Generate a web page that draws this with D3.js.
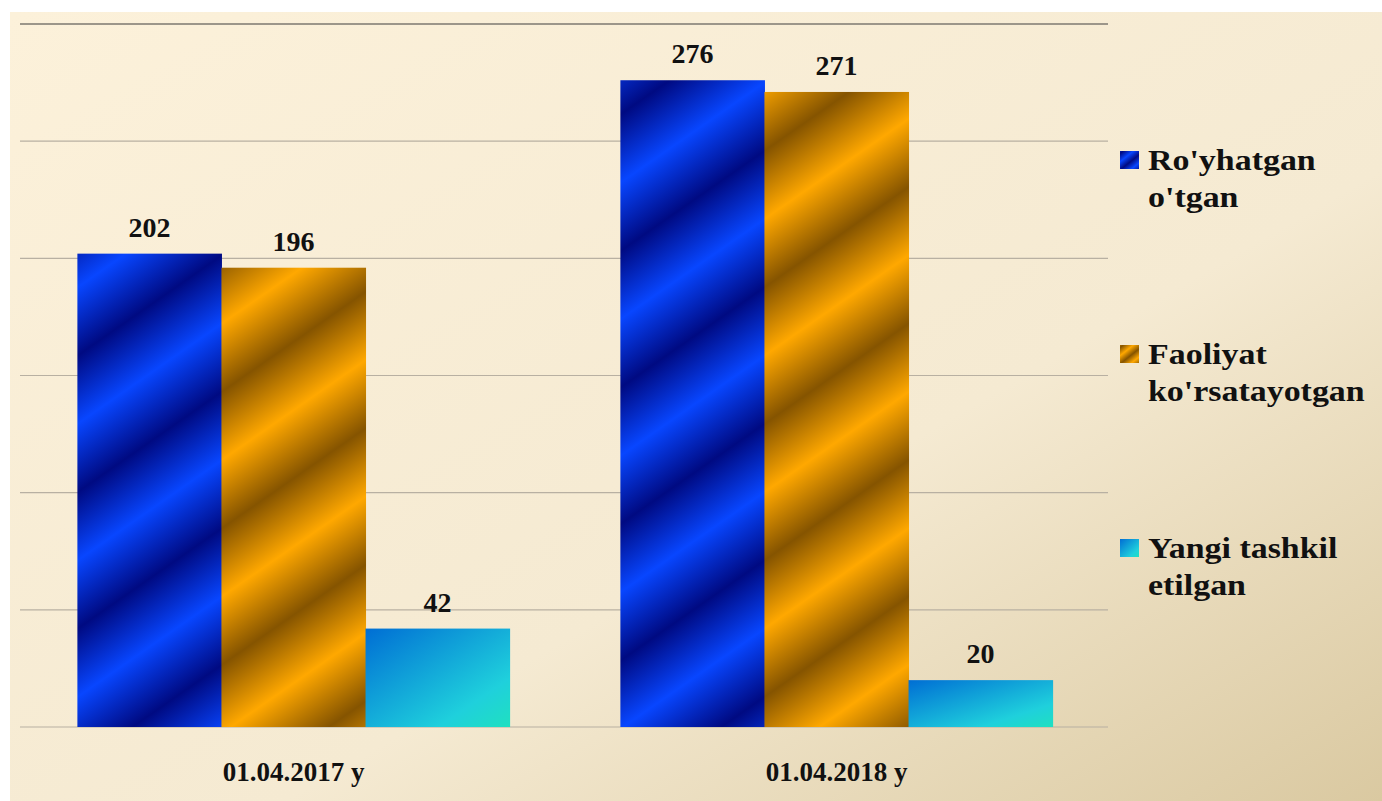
<!DOCTYPE html>
<html>
<head>
<meta charset="utf-8">
<script src="https://cdn.jsdelivr.net/npm/d3@7"></script>
<style>
  body { margin: 0; background: #ffffff; }
  svg { display: block; }
</style>
</head>
<body>
<div id="chart"></div>
<script>
var categories = ["01.04.2017 y", "01.04.2018 y"];
var series = ["Ro'yhatgan o'tgan", "Faoliyat ko'rsatayotgan", "Yangi tashkil etilgan"];
var legendLines = [["Ro'yhatgan", "o'tgan"], ["Faoliyat", "ko'rsatayotgan"], ["Yangi tashkil", "etilgan"]];
var registered = [202, 276];
var active = [196, 271];
var newlyCreated = [42, 20];
var yTicks = [0, 50, 100, 150, 200, 250, 300];

var width = 1382,
  height = 801;

var svg = d3
  .select("#chart")
  .append("svg")
  .attr("width", width)
  .attr("height", height);

var defs = svg.append("defs");

// background
var bg = defs
  .append("linearGradient")
  .attr("id", "bg")
  .attr("x1", 0)
  .attr("y1", 0)
  .attr("x2", 1)
  .attr("y2", 1);
bg.append("stop").attr("offset", 0).attr("stop-color", "#fcf1da");
bg.append("stop").attr("offset", 0.6).attr("stop-color", "#f5ead2");
bg.append("stop").attr("offset", 1).attr("stop-color", "#dac9a1");

svg
  .append("rect")
  .attr("x", 10)
  .attr("y", 12)
  .attr("width", width - 10)
  .attr("height", height - 12)
  .attr("fill", "url(#bg)");

// striped fills
function stripes(id, dark, light, dx, dy) {
  var gr = defs
    .append("linearGradient")
    .attr("id", id)
    .attr("gradientUnits", "userSpaceOnUse")
    .attr("x1", 0)
    .attr("y1", 0)
    .attr("x2", dx)
    .attr("y2", dy)
    .attr("spreadMethod", "reflect");
  gr.append("stop").attr("offset", 0).attr("stop-color", dark);
  gr.append("stop").attr("offset", 1).attr("stop-color", light);
}
stripes("blueFill", "#000a82", "#0846ff", 32, 46);
stripes("orangeFill", "#855400", "#ffa800", 32, 46);
stripes("blueSw", "#000a82", "#0846ff", 4, 5);
stripes("orangeSw", "#855400", "#ffa800", 4, 5);

var cyan = defs
  .append("linearGradient")
  .attr("id", "cyanFill")
  .attr("x1", 0)
  .attr("y1", 0)
  .attr("x2", 1)
  .attr("y2", 1);
cyan.append("stop").attr("offset", 0).attr("stop-color", "#006ed4");
cyan.append("stop").attr("offset", 0.75).attr("stop-color", "#1fd0dc");
cyan.append("stop").attr("offset", 1).attr("stop-color", "#1fe0c0");

var fills = ["url(#blueFill)", "url(#orangeFill)", "url(#cyanFill)"];
var swatches = ["url(#blueSw)", "url(#orangeSw)", "url(#cyanFill)"];

var x0 = d3
  .scaleBand()
  .domain(categories)
  .range([22, 1108])
  .paddingInner(0.204)
  .paddingOuter(0.102);

var x1 = d3
  .scaleBand()
  .domain(series)
  .range([0, x0.bandwidth()]);

var y = d3.scaleLinear().domain([0, 300]).range([727, 24]);

// gridlines
svg
  .append("g")
  .selectAll("line")
  .data(yTicks)
  .join("line")
  .attr("x1", 20)
  .attr("x2", 1108)
  .attr("y1", (d) => y(d))
  .attr("y2", (d) => y(d))
  .attr("stroke", (d) => (d === 300 ? "#9c968a" : "#b8b0a2"))
  .attr("stroke-width", (d) => (d === 300 ? 2 : 1.2));

var rows = [];
categories.forEach(function (c, i) {
  rows.push({ cat: c, s: 0, value: registered[i] });
  rows.push({ cat: c, s: 1, value: active[i] });
  rows.push({ cat: c, s: 2, value: newlyCreated[i] });
});

var g = svg.append("g");

g.selectAll("rect")
  .data(rows)
  .join("rect")
  .attr("x", (d) => x0(d.cat) + x1(series[d.s]))
  .attr("y", (d) => y(d.value))
  .attr("width", x1.bandwidth() + 0.5)
  .attr("height", (d) => y(0) - y(d.value))
  .attr("fill", (d) => fills[d.s]);

g.selectAll("text")
  .data(rows)
  .join("text")
  .attr("x", (d) => x0(d.cat) + x1(series[d.s]) + x1.bandwidth() / 2)
  .attr("y", (d) => y(d.value) - 17)
  .attr("text-anchor", "middle")
  .style("font-family", "'Liberation Serif', serif")
  .style("font-weight", "bold")
  .style("font-size", "28px")
  .attr("fill", "#111")
  .text((d) => d.value);

// category labels
svg
  .append("g")
  .selectAll("text")
  .data(categories)
  .join("text")
  .attr("x", (d) => x0(d) + x0.bandwidth() / 2)
  .attr("y", 781)
  .attr("text-anchor", "middle")
  .style("font-family", "'Liberation Serif', serif")
  .style("font-weight", "bold")
  .style("font-size", "27px")
  .attr("fill", "#111")
  .text((d) => d);

// legend
var legend = svg
  .append("g")
  .selectAll("g")
  .data(series)
  .join("g")
  .attr("transform", (d, i) => "translate(1120," + (170 + i * 194) + ")");

legend
  .append("rect")
  .attr("x", 0)
  .attr("y", -19)
  .attr("width", 19)
  .attr("height", 18)
  .attr("fill", (d, i) => swatches[i]);

legend
  .append("g")
  .attr("transform", "translate(28,0) scale(1.17,1)")
  .selectAll("text")
  .data((d, i) => legendLines[i])
  .join("text")
  .attr("x", 0)
  .attr("y", (d, j) => j * 37)
  .style("font-family", "'Liberation Serif', serif")
  .style("font-weight", "bold")
  .style("font-size", "29px")
  .attr("fill", "#111")
  .text((d) => d);
</script>
</body>
</html>
